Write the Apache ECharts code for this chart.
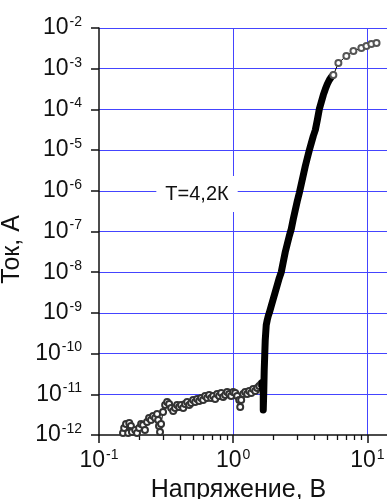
<!DOCTYPE html>
<html>
<head>
<meta charset="utf-8">
<script src="https://cdn.jsdelivr.net/npm/echarts@6/dist/echarts.min.js"></script>
<style>
  html, body { margin: 0; padding: 0; background: #fff; }
  #chart { width: 387px; height: 499px; }
</style>
</head>
<body>
<div id="chart"></div>
<script>
// Low-bias noisy region (V, A)
const lowVoltage = [0.151, 0.154, 0.159, 0.168, 0.173, 0.170, 0.165, 0.176, 0.186, 0.192,
  0.199, 0.206, 0.213, 0.220, 0.228, 0.236, 0.244, 0.253, 0.262, 0.271,
  0.276, 0.280, 0.285, 0.290, 0.300, 0.311, 0.322, 0.333, 0.345, 0.357,
  0.369, 0.382, 0.395, 0.409, 0.424, 0.438, 0.454, 0.470, 0.486, 0.503,
  0.521, 0.539, 0.558, 0.577, 0.597, 0.618, 0.640, 0.662, 0.685, 0.709,
  0.734, 0.760, 0.786, 0.814, 0.842, 0.872, 0.902, 0.934, 0.966, 1.000,
  1.035, 1.071, 1.109, 1.128, 1.147, 1.188, 1.229, 1.272, 1.316, 1.362,
  1.410, 1.460, 1.511, 1.563, 1.618, 1.646];
const lowCurrent = [1.12e-12, 1.49e-12, 1.86e-12, 1.97e-12, 1.66e-12, 1.25e-12, 1.12e-12, 1.19e-12, 1.33e-12, 1.12e-12,
  1.49e-12, 1.86e-12, 1.76e-12, 1.33e-12, 2.09e-12, 2.62e-12, 2.34e-12, 2.93e-12, 2.62e-12, 3.28e-12,
  2.34e-12, 1.66e-12, 1.19e-12, 1.86e-12, 3.67e-12, 5.46e-12, 6.47e-12, 5.78e-12, 4.61e-12, 3.89e-12,
  4.61e-12, 5.46e-12, 4.88e-12, 5.46e-12, 4.61e-12, 5.78e-12, 6.47e-12, 5.46e-12, 6.11e-12, 7.24e-12,
  6.47e-12, 7.67e-12, 6.84e-12, 8.11e-12, 7.24e-12, 9.08e-12, 8.11e-12, 9.61e-12, 8.11e-12, 9.08e-12,
  7.67e-12, 1.02e-11, 9.08e-12, 1.08e-11, 8.59e-12, 9.61e-12, 1.14e-11, 1.02e-11, 9.08e-12, 1.14e-11,
  1.08e-11, 9.08e-12, 7.24e-12, 4.88e-12, 7.24e-12, 1.02e-11, 1.14e-11, 1.02e-11, 1.21e-11, 1.08e-11,
  1.35e-11, 1.21e-11, 1.43e-11, 1.60e-11, 1.79e-11, 1.90e-11];

// Steep rise after the threshold (V, A)
const riseVoltage = [1.646, 1.675, 1.675, 1.690, 1.703, 1.718, 1.733, 1.763, 1.794, 1.825,
  1.857, 1.921, 1.988, 2.058, 2.130, 2.204, 2.282, 2.361, 2.444, 2.529,
  2.618, 2.709, 2.804, 2.902, 3.004, 3.109, 3.218, 3.331, 3.447, 3.568,
  3.693, 3.822, 3.954, 4.093, 4.236, 4.384, 4.537, 4.695, 4.861, 5.030,
  5.205, 5.386, 5.577];
const riseCurrent = [1.90e-11, 9.61e-12, 4.11e-12, 1.2e-11, 3.95e-11, 9.24e-11, 2.16e-10, 5.05e-10, 6.70e-10, 8.39e-10,
  9.95e-10, 1.48e-9, 2.20e-9, 3.27e-9, 4.85e-9, 7.20e-9, 1.01e-8, 1.78e-8, 3.13e-8, 4.93e-8,
  7.75e-8, 1.15e-7, 2.03e-7, 3.38e-7, 5.61e-7, 8.83e-7, 1.47e-6, 2.44e-6, 4.07e-6, 6.40e-6,
  1.00e-5, 1.49e-5, 2.22e-5, 3.12e-5, 5.50e-5, 1.02e-4, 1.52e-4, 2.26e-4, 3.17e-4, 4.21e-4,
  5.27e-4, 6.25e-4, 7.00e-4];

// Saturation tail (V, A)
const tailVoltage = [5.577, 6.08, 6.97, 7.87, 9.02, 9.84, 10.7, 11.7];
const tailCurrent = [7.00e-4, 1.38e-3, 2.05e-3, 2.72e-3, 3.23e-3, 3.60e-3, 4.05e-3, 4.30e-3];

// Axis ticks
const xMajorTicks = [0.1, 1, 10];
const xMinorTicks = [0.2, 0.3, 0.4, 0.5, 0.6, 0.7, 0.8, 0.9, 2, 3, 4, 5, 6, 7, 8, 9];
const yMajorTicks = [1e-12, 1e-11, 1e-10, 1e-9, 1e-8, 1e-7, 1e-6, 1e-5, 1e-4, 1e-3, 1e-2];

const xTitle = 'Напряжение, В';
const yTitle = 'Ток, А';
const noteText = 'Т=4,2К';

const FONT = '"Liberation Sans", Arial, sans-serif';

function pairs(xs, ys) { return xs.map((x, i) => [x, ys[i]]); }
// "10" with the decade exponent as a superscript
function powLabel(v) {
  const lg = Math.log10(v);
  const e = Math.round(lg);
  if (Math.abs(lg - e) > 1e-6) return '';
  return '{b|10}{s|' + e + '}';
}
const powRich = {
  b: { fontSize: 23, fontFamily: FONT, color: '#111', lineHeight: 26 },
  s: { fontSize: 14, fontFamily: FONT, color: '#111', lineHeight: 12, verticalAlign: 'top', padding: [0, 0, 0, 1] }
};
const axisColor = '#111';
const gridBlue = '#4444ff';

const chart = echarts.init(document.getElementById('chart'), null, { renderer: 'canvas' });
chart.setOption({
  animation: false,
  backgroundColor: '#fff',
  grid: { left: 99, top: 28, right: 0, bottom: 64, containLabel: false, outerBoundsMode: 'none' },
  xAxis: [
    {
      type: 'log', logBase: 10, min: 0.1, max: 14, interval: 1,
      position: 'bottom',
      name: xTitle, nameLocation: 'middle', nameGap: 40,
      nameTextStyle: { fontSize: 25, fontFamily: FONT, color: '#111', padding: [0, 9, 0, 0] },
      axisLine: { show: true, onZero: false, lineStyle: { color: axisColor, width: 1.5 } },
      axisTick: { show: true, inside: false, length: 8, customValues: xMajorTicks, lineStyle: { color: axisColor, width: 1.5 } },
      axisLabel: { margin: 13, customValues: xMajorTicks, formatter: powLabel, rich: powRich },
      splitLine: { show: true, showMinLine: false, lineStyle: { color: gridBlue, width: 1 } }
    },
    {
      // minor decade ticks (2..9 × 10^n)
      type: 'log', logBase: 10, min: 0.1, max: 14, interval: 1,
      position: 'bottom',
      axisLine: { show: false, onZero: false },
      axisTick: { show: true, inside: false, length: 5, customValues: xMinorTicks, lineStyle: { color: axisColor, width: 1.3 } },
      axisLabel: { show: false },
      splitLine: { show: false }
    }
  ],
  yAxis: {
    type: 'log', logBase: 10, min: 1e-12, max: 1e-2, interval: 1,
    name: yTitle, nameLocation: 'middle', nameGap: 65,
    nameTextStyle: { fontSize: 25, fontFamily: FONT, color: '#111', padding: [0, 36, 0, 0] },
    axisLine: { show: true, onZero: false, lineStyle: { color: axisColor, width: 1.5 } },
    axisTick: { show: true, inside: false, length: 8, customValues: yMajorTicks, lineStyle: { color: axisColor, width: 1.5 } },
    axisLabel: { margin: 17, customValues: yMajorTicks, formatter: powLabel, rich: powRich },
    splitLine: { show: true, showMinLine: false, lineStyle: { color: gridBlue, width: 1 } }
  },
  graphic: [{
    type: 'text', x: 197, y: 194, z: 1,
    style: {
      text: noteText, font: '20px ' + FONT, fill: '#111',
      align: 'center', verticalAlign: 'middle',
      backgroundColor: '#fff', padding: [8, 9, 8, 9]
    }
  }],
  series: [
    {
      type: 'line', data: pairs(lowVoltage, lowCurrent), z: 3, silent: true,
      symbol: 'emptyCircle', symbolSize: 6, showAllSymbol: true,
      lineStyle: { color: '#111', width: 1 },
      itemStyle: { color: '#333', borderWidth: 1 }
    },
    {
      type: 'line', data: pairs(riseVoltage, riseCurrent), z: 4, silent: true,
      symbol: 'none',
      lineStyle: { color: '#000', width: 7, cap: 'round', join: 'round' }
    },
    {
      type: 'line', data: pairs(tailVoltage, tailCurrent), z: 5, silent: true,
      symbol: 'emptyCircle', symbolSize: 6, showAllSymbol: true,
      lineStyle: { color: '#000', width: 1 },
      itemStyle: { color: '#555', borderWidth: 1 }
    }
  ]
});
</script>
</body>
</html>
